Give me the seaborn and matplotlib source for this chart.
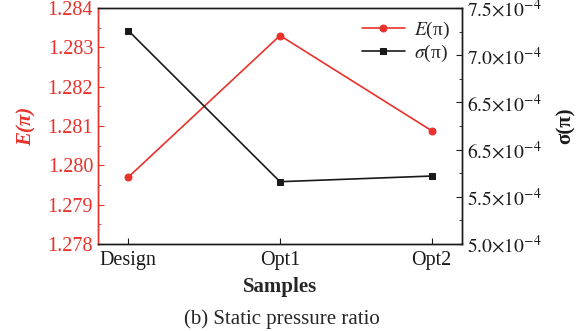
import numpy as np
import pandas as pd
import matplotlib
matplotlib.use('Agg')
import matplotlib.pyplot as plt
import seaborn as sns
from matplotlib.ticker import MultipleLocator, FixedLocator, FixedFormatter

samples = ['Design', 'Opt1', 'Opt2']
e_pi = [1.27970, 1.28330, 1.28088]
sigma_pi = [7.26e-4, 5.66e-4, 5.72e-4]
sigma_ticks = [5.0e-4, 5.5e-4, 6.0e-4, 6.5e-4, 7.0e-4, 7.5e-4]
sigma_ticklabels = [r'$5.0{\times}10^{-4}$', r'$5.5{\times}10^{-4}$', r'$6.5{\times}10^{-4}$',
                    r'$6.5{\times}10^{-4}$', r'$7.0{\times}10^{-4}$', r'$7.5{\times}10^{-4}$']

red = '#e8322c'
black = '#1a1a1a'

sns.set_style('ticks')
plt.rcParams['font.family'] = ['Liberation Serif', 'DejaVu Serif']
plt.rcParams['mathtext.fontset'] = 'stix'
plt.rcParams['xtick.direction'] = 'in'
plt.rcParams['ytick.direction'] = 'in'

df = pd.DataFrame({'Samples': samples, 'E': e_pi, 'sigma': sigma_pi})

fig = plt.figure(figsize=(5.76, 3.31), dpi=100)
ax = fig.add_axes([98 / 576, 1 - 244 / 331, (462 - 98) / 576, (244 - 8) / 331])
ax2 = ax.twinx()

sns.lineplot(data=df, x='Samples', y='E', ax=ax, color=red, marker='o', markersize=5,
             markeredgecolor=red, linewidth=1.2, sort=False, label=r'$E$(π)', legend=False)
sns.lineplot(data=df, x='Samples', y='sigma', ax=ax2, color=black, marker='s', markersize=4.5,
             markeredgecolor=black, linewidth=1.2, sort=False, label=r'$\sigma$(π)', legend=False)

ax.set_xlim(-0.2, 2.2)
ax.set_ylim(1.278, 1.284)
ax.yaxis.set_major_locator(MultipleLocator(0.001))
ax.yaxis.set_minor_locator(MultipleLocator(0.0005))
ax.yaxis.set_major_formatter(matplotlib.ticker.FormatStrFormatter('%.3f'))
ax.tick_params(axis='y', which='both', colors=red, labelsize=14.5)
ax.tick_params(axis='y', which='major', length=4)
ax.tick_params(axis='y', which='minor', length=2.5)
ax.tick_params(axis='x', labelsize=14.5, length=4, colors=black, pad=5)
ax.set_ylabel('E(π)', color=red, fontsize=15, fontweight='bold', fontstyle='italic', labelpad=8)
ax.set_xlabel('Samples', fontsize=15, fontweight='bold', labelpad=5)

ax2.set_ylim(5.0e-4, 7.5e-4)
ax2.yaxis.set_major_locator(FixedLocator(sigma_ticks))
ax2.yaxis.set_major_formatter(FixedFormatter(sigma_ticklabels))
ax2.yaxis.set_minor_locator(MultipleLocator(0.25e-4))
ax2.tick_params(axis='y', which='both', colors=black, labelsize=14)
ax2.tick_params(axis='y', which='major', length=4)
ax2.tick_params(axis='y', which='minor', length=2.5)
ax2.set_ylabel('σ(π)', color=black, fontsize=15, fontweight='bold', labelpad=10)

for a in (ax, ax2):
    for side in ['top', 'right', 'bottom']:
        a.spines[side].set_color(black)
        a.spines[side].set_linewidth(1.0)
        a.spines[side].set_visible(True)
    a.spines['left'].set_color(red)
    a.spines['left'].set_linewidth(1.0)
    a.spines['left'].set_visible(True)

h1, l1 = ax.get_legend_handles_labels()
h2, l2 = ax2.get_legend_handles_labels()
ax2.legend(h1 + h2, l1 + l2, loc='upper right', frameon=False, fontsize=14,
           handlelength=2.2, borderaxespad=0.2, labelspacing=0.1, handletextpad=0.5)

fig.text(0.49, 0.02, '(b) Static pressure ratio', ha='center', fontsize=15)

fig.savefig('out.png', dpi=100)
